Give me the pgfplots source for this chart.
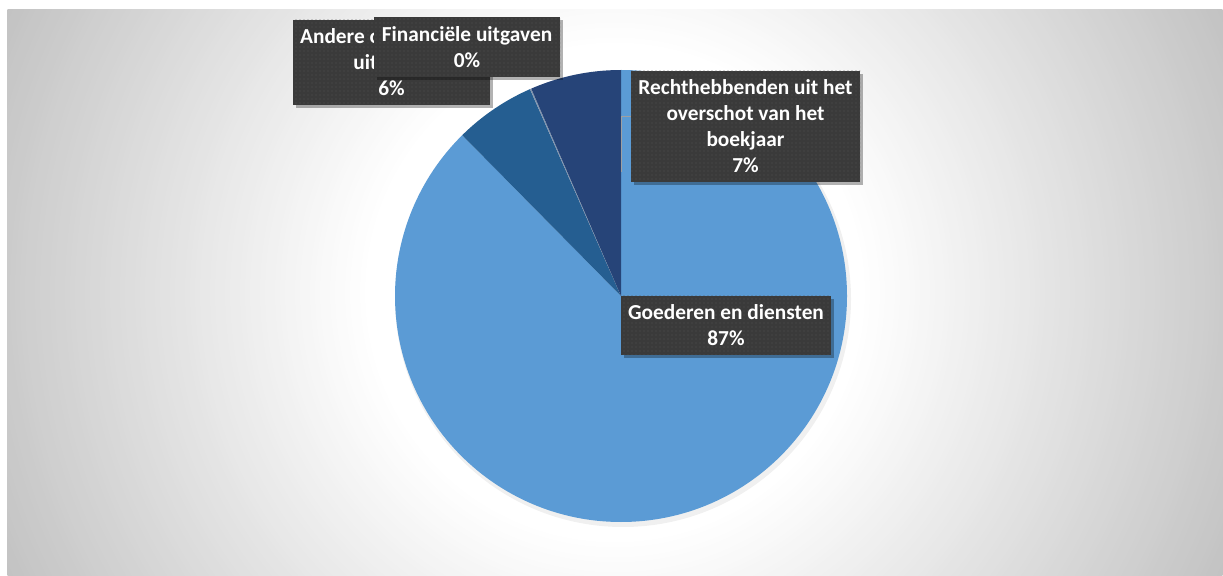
\documentclass[border=0pt]{standalone}
\usepackage{pgfplots}
\pgfplotsset{compat=1.18}
\usepackage{pgfplotstable}
\usepackage{fontspec}
\setmainfont{Carlito}
\usetikzlibrary{patterns}

\definecolor{sliceA}{HTML}{5B9BD5}
\definecolor{sliceB}{HTML}{255E91}
\definecolor{sliceC}{HTML}{8497B0}
\definecolor{sliceD}{HTML}{264478}
\definecolor{boxfill}{HTML}{3A3A3A}
\definecolor{boxdots}{HTML}{535353}
\definecolor{bgedge}{HTML}{C3C3C3}

% shares in percent, clockwise from 12 o'clock
\pgfplotstableread{
share
87.6
5.8
0.1
6.5
}\pieshares

\newcommand\lbl{\fontsize{16pt}{19.5pt}\selectfont\bfseries}
% box: x1 y1 x2 y2 (pixels, y up), text
\newcommand\labelbox[5]{%
  \fill[black,opacity=0.3] (axis cs:#1+3,#2-3) rectangle (axis cs:#3+3,#4-3);
  \fill[boxfill] (axis cs:#1,#2) rectangle (axis cs:#3,#4);
  \fill[pattern=dots, pattern color=boxdots] (axis cs:#1,#2) rectangle (axis cs:#3,#4);
  \node[text=white, align=center, font=\lbl, inner sep=0pt] at (axis cs:{(#1+#3)/2},{(#2+#4)/2}) {#5};
}

\begin{document}
\begin{tikzpicture}[x=0.75pt,y=0.75pt]
\pgfplotstablegetelem{0}{share}\of\pieshares \let\vA\pgfplotsretval
\pgfplotstablegetelem{1}{share}\of\pieshares \let\vB\pgfplotsretval
\pgfplotstablegetelem{2}{share}\of\pieshares \let\vC\pgfplotsretval
\pgfplotstablegetelem{3}{share}\of\pieshares \let\vD\pgfplotsretval
\pgfmathsetmacro\aA{90}
\pgfmathsetmacro\aB{\aA-3.6*\vA}
\pgfmathsetmacro\aC{\aB-3.6*\vB}
\pgfmathsetmacro\aD{\aC-3.6*\vC}
\pgfmathsetmacro\aE{\aD-3.6*\vD}

\path[use as bounding box] (0,0) rectangle (1223,575);
\fill[white] (0,0) rectangle (1223,575);
% radial background, white in the middle, grey to the corners
\begin{scope}
  \clip (7,0) rectangle (1223,565);
  \fill[bgedge] (7,0) rectangle (1223,565);
  \foreach \r in {670,665,...,250} {
    \pgfmathsetmacro\mixw{(670-\r)/4.2}
    \fill[white!\mixw!bgedge] (615,282.5) circle[radius=\r*0.75pt];
  }
\end{scope}

\begin{axis}[x=0.75pt, y=0.75pt, xmin=0, xmax=1223, ymin=0, ymax=575,
  hide axis, clip=false]
  \fill[black, opacity=0.06] (axis cs:623,276) circle[radius=171pt];
  \fill[sliceA] (axis cs:621,279) -- ++(\aA:169.5pt) arc[start angle=\aA, end angle=\aB, radius=169.5pt] -- cycle;
  \fill[sliceB] (axis cs:621,279) -- ++(\aB:169.5pt) arc[start angle=\aB, end angle=\aC, radius=169.5pt] -- cycle;
  \fill[sliceC] (axis cs:621,279) -- ++(\aC:169.5pt) arc[start angle=\aC, end angle=\aD, radius=169.5pt] -- cycle;
  \fill[sliceD] (axis cs:621,279) -- ++(\aD:169.5pt) arc[start angle=\aD, end angle=\aE, radius=169.5pt] -- cycle;
  \draw[gray!75, line width=0.75pt] (axis cs:631,458) -- (axis cs:621,458) -- (axis cs:621,403);

  \labelbox{621}{220}{831}{279}{Goederen en diensten\\87\%}
  \labelbox{631}{393}{860}{504}{Rechthebbenden uit het\\overschot van het\\boekjaar\\7\%}
  \labelbox{293}{470}{490}{555}{Andere operationele\\uitgaven\\6\%}
  \labelbox{374}{498}{560}{558}{Financiële uitgaven\\0\%}
\end{axis}
\end{tikzpicture}
\end{document}
